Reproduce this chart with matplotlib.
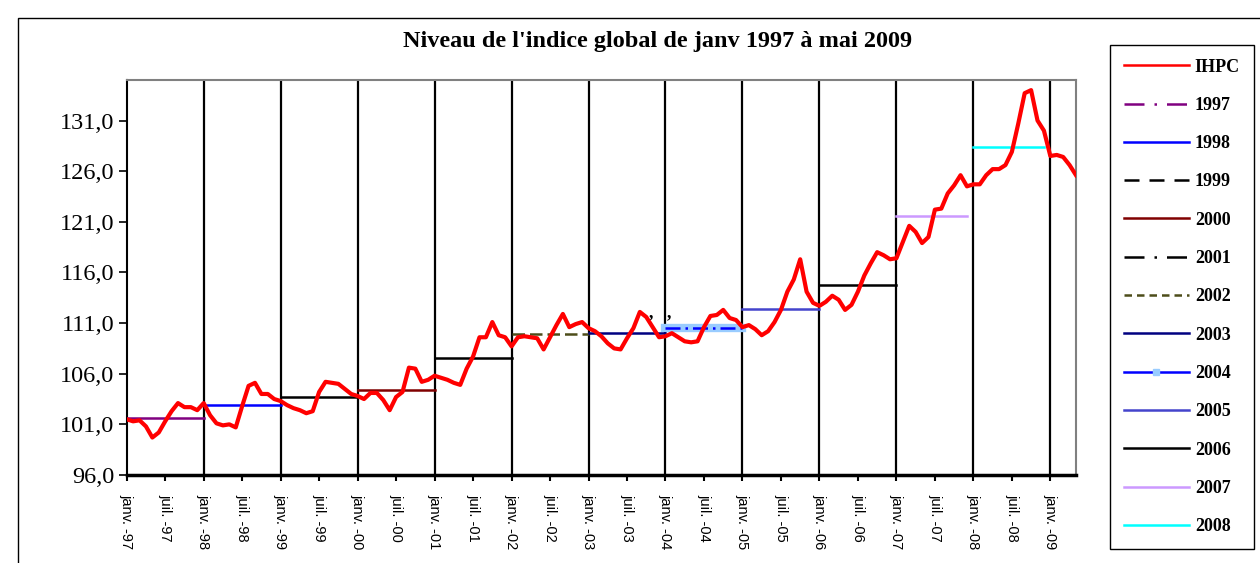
import matplotlib
matplotlib.use("Agg")
import matplotlib.pyplot as plt
from matplotlib.lines import Line2D
from matplotlib.patches import Rectangle

# monthly IHPC values, janv 1997 -> mai 2009
ihpc_1997 = [101.5, 101.3, 101.4, 100.8, 99.7, 100.2, 101.3, 102.3, 103.1, 102.7, 102.7, 102.4]
ihpc_1998 = [103.1, 101.9, 101.1, 100.9, 101.0, 100.7, 102.8, 104.8, 105.1, 104.0, 104.0, 103.5]
ihpc_1999 = [103.3, 102.9, 102.6, 102.4, 102.1, 102.3, 104.2, 105.2, 105.1, 105.0, 104.5, 104.0]
ihpc_2000 = [103.8, 103.5, 104.1, 104.1, 103.4, 102.4, 103.7, 104.2, 106.6, 106.5, 105.2, 105.4]
ihpc_2001 = [105.8, 105.6, 105.4, 105.1, 104.9, 106.5, 107.7, 109.6, 109.6, 111.1, 109.8, 109.6]
ihpc_2002 = [108.7, 109.6, 109.7, 109.6, 109.5, 108.4, 109.6, 110.8, 111.9, 110.6, 110.9, 111.1]
ihpc_2003 = [110.5, 110.2, 109.7, 109.0, 108.5, 108.4, 109.5, 110.5, 112.1, 111.6, 110.6, 109.6]
ihpc_2004 = [109.7, 110.0, 109.6, 109.2, 109.1, 109.2, 110.6, 111.7, 111.8, 112.3, 111.5, 111.3]
ihpc_2005 = [110.6, 110.8, 110.4, 109.8, 110.2, 111.1, 112.3, 114.1, 115.3, 117.3, 114.1, 113.0]
ihpc_2006 = [112.7, 113.1, 113.7, 113.3, 112.3, 112.8, 114.1, 115.7, 116.9, 118.0, 117.7, 117.3]
ihpc_2007 = [117.4, 119.0, 120.6, 120.0, 118.9, 119.5, 122.2, 122.3, 123.8, 124.6, 125.6, 124.5]
ihpc_2008 = [124.7, 124.7, 125.6, 126.2, 126.2, 126.6, 127.9, 130.7, 133.7, 134.0, 131.0, 130.0]
ihpc_2009 = [127.5, 127.6, 127.4, 126.6, 125.6]

ihpc = (ihpc_1997 + ihpc_1998 + ihpc_1999 + ihpc_2000 + ihpc_2001 + ihpc_2002 + ihpc_2003
        + ihpc_2004 + ihpc_2005 + ihpc_2006 + ihpc_2007 + ihpc_2008 + ihpc_2009)
months = list(range(len(ihpc)))

# annual averages and number of months each line covers
avg_years = ["1997", "1998", "1999", "2000", "2001", "2002", "2003", "2004", "2005", "2006", "2007", "2008"]
avg_values = [101.66, 102.88, 103.73, 104.42, 107.55, 109.92, 109.98, 110.48, 112.39, 114.76, 121.57, 128.41]
avg_months = [12, 12, 12, 12, 12, 12, 12, 12, 12, 12, 11, 11]

tick_labels = ["janv. -97", "juil. -97", "janv. -98", "juil. -98", "janv. -99", "juil. -99",
               "janv. -00", "juil. -00", "janv. -01", "juil. -01", "janv. -02", "juil. -02",
               "janv. -03", "juil. -03", "janv. -04", "juil. -04", "janv. -05", "juil. -05",
               "janv. -06", "juil. -06", "janv. -07", "juil. -07", "janv. -08", "juil. -08",
               "janv. -09"]
y_ticks = [96, 101, 106, 111, 116, 121, 126, 131]

# plot style and legend style for each annual line
colors = ["#800080", "#0000FF", "#000000", "#800000", "#000000", "#4D4D1A",
          "#000080", "#0000FF", "#4444CC", "#000000", "#CC99FF", "#00FFFF"]
plot_ls = ["-", "-", "-", "-", "-", (0, (5, 2)), "-", (0, (6, 2, 1, 2)), "-", "-", "-", "-"]
legend_ls = [(0, (8, 4, 1, 4)), "-", (0, (6, 4)), "-", (0, (8, 4, 1, 4)), (0, (3, 2)),
             "-", "-", "-", "-", "-", "-"]

serif = "Liberation Serif"
sans = "Liberation Sans"

fig = plt.figure(figsize=(12.6, 5.63), dpi=100)
ax = fig.add_axes([126.7 / 1260, 1 - 475 / 563, (1076 - 126.7) / 1260, (475 - 80) / 563])

# outer chart border
fig.patches.append(Rectangle((18 / 1260, -0.1), 1.2, (563 - 18) / 563 + 0.1,
                             transform=fig.transFigure, fill=False, edgecolor="black", lw=1))

# january separators
for m in months[12::12]:
    ax.axvline(m, color="black", lw=1.6, zorder=1)

for k, val in enumerate(avg_values):
    x0 = 12 * k
    x1 = x0 + avg_months[k]
    if avg_years[k] == "2004":
        ax.plot([x0, x1], [val, val], color="#99CCFF", lw=6, solid_capstyle="projecting", zorder=2)
    ax.plot([x0, x1], [val, val], color=colors[k], ls=plot_ls[k], lw=1.8, zorder=3)

ax.plot(months, ihpc, color="#FF0000", lw=3, zorder=4)

# stray comma marks
ax.text(81.8, 112.0, ",", fontsize=13, fontweight="bold", family=serif, ha="center", va="center")
ax.text(84.6, 112.0, ",", fontsize=13, fontweight="bold", family=serif, ha="center", va="center")

ax.set_xlim(0, len(ihpc) - 1)
ax.set_ylim(96, 135)
ax.set_xticks(months[::6])
ax.set_xticklabels(tick_labels, rotation=270, va="top", ha="center")
for lbl in ax.get_xticklabels():
    lbl.set_fontfamily(sans)
    lbl.set_fontsize(10.5)
ax.set_yticks(y_ticks)
ax.set_yticklabels([f"{v:.1f}".replace(".", ",") for v in y_ticks])
for lbl in ax.get_yticklabels():
    lbl.set_fontfamily(serif)
    lbl.set_fontsize(17.5)
ax.tick_params(axis="x", length=4, width=1.5, pad=10)
ax.tick_params(axis="y", length=6, width=1.2, pad=3)

for side in ["top", "right"]:
    ax.spines[side].set_color("#808080")
    ax.spines[side].set_linewidth(1.5)
ax.spines["left"].set_linewidth(1.5)
ax.spines["bottom"].set_linewidth(2.5)

fig.text(658 / 1260, 1 - 42 / 563, "Niveau de l'indice global de janv 1997 à mai 2009",
         family=serif, fontweight="bold", fontsize=17.5, ha="center", va="center")

handles = [Line2D([], [], color="#FF0000", lw=1.8)]
for k in range(len(avg_years)):
    if avg_years[k] == "2004":
        handles.append(Line2D([], [], color=colors[k], lw=1.8, marker="s", markersize=5,
                              markerfacecolor="#99CCFF", markeredgecolor="#99CCFF"))
    else:
        handles.append(Line2D([], [], color=colors[k], ls=legend_ls[k], lw=1.8))
labels = ["IHPC"] + avg_years

leg = fig.legend(handles, labels, loc="upper left", bbox_to_anchor=(1110 / 1260, 1 - 45 / 563),
                 frameon=True, fancybox=False, edgecolor="black", framealpha=1,
                 handlelength=3.6, labelspacing=1.18, borderpad=0.75, handletextpad=0.35,
                 borderaxespad=0, numpoints=1,
                 prop={"family": serif, "weight": "bold", "size": 13})
leg.get_frame().set_linewidth(1)

fig.savefig("out.png", dpi=100)
